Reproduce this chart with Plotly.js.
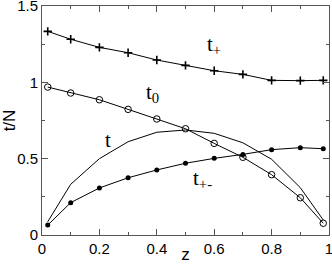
<!DOCTYPE html>
<html>
<head>
<meta charset="utf-8">
<script src="https://cdn.plot.ly/plotly-3.0.1.min.js"></script>
<style>html,body{margin:0;padding:0;background:#fff;}#chart{width:332px;height:264px;}</style>
</head>
<body>
<div id="chart"></div>
<script>
const z = [0.02, 0.1, 0.2, 0.3, 0.4, 0.5, 0.6, 0.7, 0.8, 0.9, 0.98];
const tPlus = [1.334, 1.282, 1.229, 1.194, 1.146, 1.111, 1.076, 1.052, 1.013, 1.011, 1.013];
const tZero = [0.969, 0.930, 0.886, 0.823, 0.760, 0.696, 0.600, 0.509, 0.395, 0.244, 0.077];
const tPM = [0.065, 0.212, 0.308, 0.375, 0.426, 0.470, 0.502, 0.528, 0.559, 0.572, 0.565];
const tAll = [0.087, 0.332, 0.500, 0.611, 0.673, 0.688, 0.666, 0.604, 0.496, 0.310, 0.098];
const xTicks = [0, 0.2, 0.4, 0.6, 0.8, 1];
const xTickText = ['0', '0.2', '0.4', '0.6', '0.8', '1'];
const yTicks = [0, 0.5, 1, 1.5];
const yTickText = ['0', '0.5', '1', '1.5'];
const seriesLabels = ['t<sub>+</sub>', 't<sub>0</sub>', 't', 't<sub>+-</sub>'];
const labelX = [0.60, 0.385, 0.23, 0.56];
const labelY = [1.245, 0.93, 0.62, 0.37];

const line = {color: '#000', width: 1};
const traces = [
  {x: z, y: tPlus, mode: 'lines+markers', line: line,
   marker: {symbol: 'cross-thin-open', size: 6, color: '#000', line: {color: '#000', width: 1.6}}},
  {x: z, y: tZero, mode: 'lines+markers', line: line,
   marker: {symbol: 'circle-open', size: 6.5, color: '#000', line: {color: '#000', width: 1}}},
  {x: z, y: tAll, mode: 'lines', line: line},
  {x: z, y: tPM, mode: 'lines+markers', line: line,
   marker: {symbol: 'circle', size: 5, color: '#000'}}
];

const annotations = seriesLabels.map((s, i) => ({
  x: labelX[i], y: labelY[i], xref: 'x', yref: 'y', text: s, showarrow: false,
  font: {family: 'Liberation Serif, Times New Roman, serif', size: 21, color: '#000'}
}));

const axisCommon = {
  showline: true, linecolor: '#555', linewidth: 1, mirror: 'allticks',
  ticks: 'inside', ticklen: 6, tickcolor: '#555', tickwidth: 1,
  showgrid: false, zeroline: false, ticklabeloverflow: 'allow',
  tickfont: {family: 'Liberation Sans, Arial, sans-serif', size: 15, color: '#000'}
};

const layout = {
  width: 332, height: 264,
  margin: {l: 42, r: 3, t: 6, b: 29},
  paper_bgcolor: '#fff', plot_bgcolor: '#fff',
  showlegend: false,
  xaxis: Object.assign({}, axisCommon, {
    range: [0, 1], tickmode: 'array', tickvals: xTicks, ticktext: xTickText,
    minor: {dtick: 0.1, ticks: 'inside', ticklen: 3, tickcolor: '#555', showgrid: false},
    title: {text: 'z', standoff: 5, font: {family: 'Liberation Sans, Arial, sans-serif', size: 17, color: '#000'}}
  }),
  yaxis: Object.assign({}, axisCommon, {
    range: [0, 1.5], tickmode: 'array', tickvals: yTicks, ticktext: yTickText,
    minor: {dtick: 0.25, ticks: 'inside', ticklen: 3, tickcolor: '#555', showgrid: false},
    title: {text: 't/N', standoff: 2, font: {family: 'Liberation Sans, Arial, sans-serif', size: 17, color: '#000'}}
  }),
  annotations: annotations
};

Plotly.newPlot('chart', traces, layout, {displayModeBar: false, staticPlot: true});
</script>
</body>
</html>
